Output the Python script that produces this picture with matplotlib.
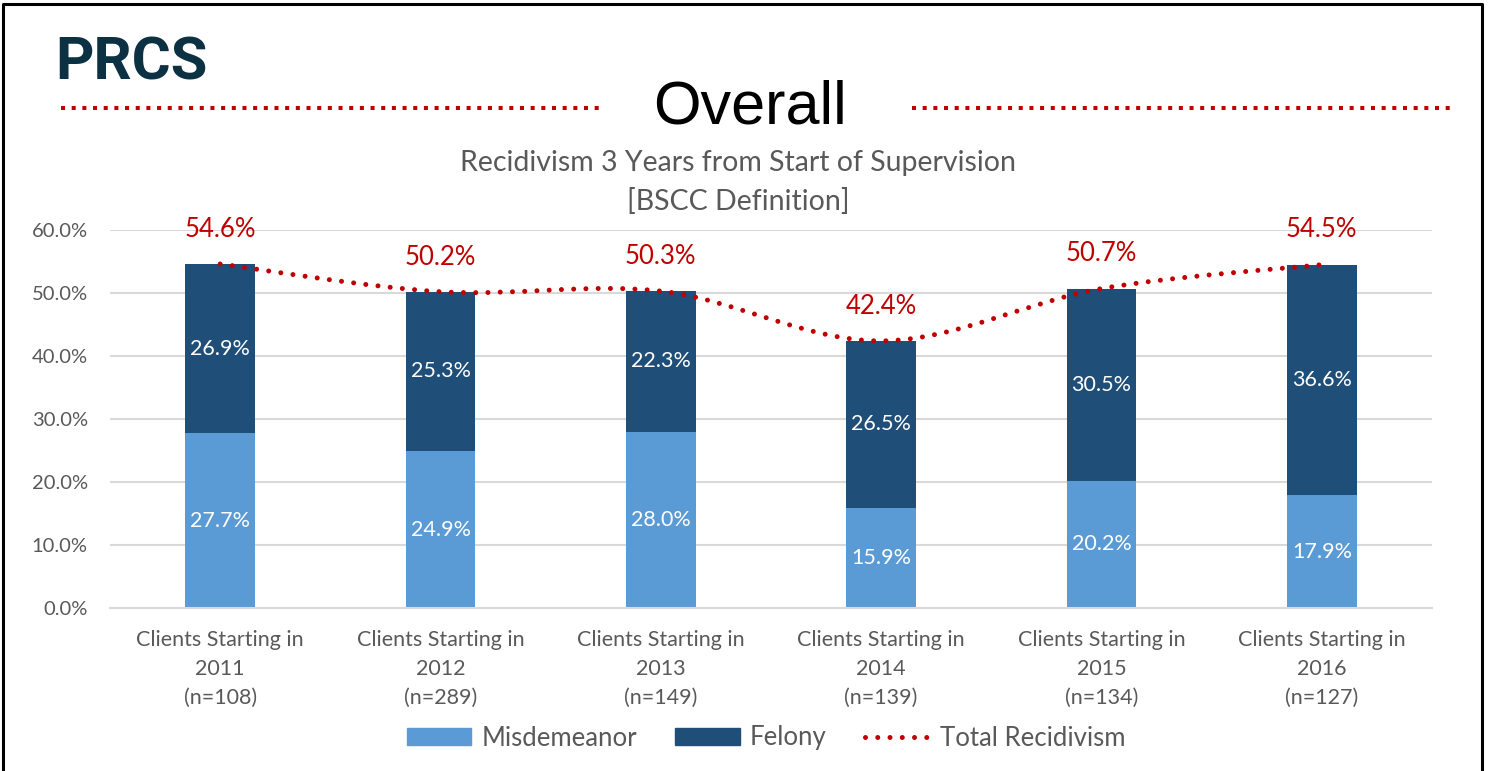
import matplotlib
matplotlib.use("Agg")
import matplotlib.pyplot as plt
import numpy as np
from matplotlib.path import Path
from matplotlib.patches import PathPatch, Patch
from matplotlib.lines import Line2D

plt.rcParams['font.family'] = ['Lato', 'DejaVu Sans']

# ---- data ----
categories = ["Clients Starting in\n2011\n(n=108)",
              "Clients Starting in\n2012\n(n=289)",
              "Clients Starting in\n2013\n(n=149)",
              "Clients Starting in\n2014\n(n=139)",
              "Clients Starting in\n2015\n(n=134)",
              "Clients Starting in\n2016\n(n=127)"]
misdemeanor = [27.7, 24.9, 28.0, 15.9, 20.2, 17.9]
felony = [26.9, 25.3, 22.3, 26.5, 30.5, 36.6]
total = [54.6, 50.2, 50.3, 42.4, 50.7, 54.5]
yticks = [0, 10, 20, 30, 40, 50, 60]

C_MIS = "#5B9BD5"
C_FEL = "#1F4E79"
C_RED = "#C00000"
C_GRAY = "#595959"

fig = plt.figure(figsize=(14.9, 7.71), dpi=100)
ax = fig.add_axes([110/1490, 1-608/771, (1432-110)/1490, (608-230)/771])

x = np.arange(len(categories))
w = 0.315
ax.bar(x, misdemeanor, w, color=C_MIS, zorder=2, label="Misdemeanor")
ax.bar(x, felony, w, bottom=misdemeanor, color=C_FEL, zorder=2, label="Felony")

for i in range(len(x)):
    ax.text(x[i], misdemeanor[i]/2, f"{misdemeanor[i]:.1f}%", ha='center', va='center',
            color='white', fontsize=15.5, zorder=3)
    ax.text(x[i], misdemeanor[i] + felony[i]/2, f"{felony[i]:.1f}%", ha='center', va='center',
            color='white', fontsize=15.5, zorder=3)
    ax.annotate(f"{total[i]:.1f}%", (x[i], total[i]), xytext=(0, 25), textcoords='offset points',
                ha='center', va='center', color=C_RED, fontsize=18.5, zorder=3)

# smoothed total line (Catmull-Rom -> Bezier from data points)
pts = np.column_stack([x, total]).astype(float)
verts = [tuple(pts[0])]
codes = [Path.MOVETO]
n = len(pts)
for i in range(n-1):
    p0 = pts[i-1] if i > 0 else pts[i]
    p1 = pts[i]
    p2 = pts[i+1]
    p3 = pts[i+2] if i+2 < n else pts[i+1]
    c1 = p1 + (p2 - p0) / 6.0
    c2 = p2 - (p3 - p1) / 6.0
    verts += [tuple(c1), tuple(c2), tuple(p2)]
    codes += [Path.CURVE4]*3
path = Path(verts, codes)
pp = PathPatch(path, facecolor='none', edgecolor=C_RED, lw=3.6, zorder=4,
               linestyle=(0, (0.001, 2.45)), capstyle='round')
ax.add_patch(pp)

ax.set_xlim(-0.5, len(x)-0.5)
ax.set_ylim(0, 60)
ax.set_yticks(yticks)
ax.set_yticklabels([f"{v:.1f}%" for v in yticks])
ax.set_xticks(x)
ax.set_xticklabels(categories, linespacing=1.55)
ax.tick_params(axis='both', length=0, colors=C_GRAY)
ax.tick_params(axis='y', pad=16, labelsize=14.5)
ax.tick_params(axis='x', pad=16, labelsize=15.5)
ax.grid(axis='y', color='#D9D9D9', lw=1.5, zorder=0)
ax.set_axisbelow(True)
for s in ['top', 'right', 'left']:
    ax.spines[s].set_visible(False)
ax.spines['bottom'].set_color('#D9D9D9')
ax.spines['bottom'].set_linewidth(1.5)

handles = [Patch(color=C_MIS, label="Misdemeanor"),
           Patch(color=C_FEL, label="Felony"),
           Line2D([0], [0], color=C_RED, lw=3.6, linestyle=(0, (0.001, 2.45)),
                  dash_capstyle='round', label="Total Recidivism")]
fig.legend(handles=handles, loc='center', bbox_to_anchor=(766/1490, 1-738/771), ncol=3,
           frameon=False, fontsize=18.5, labelcolor=C_GRAY, handlelength=2.5, handleheight=0.62,
           handletextpad=0.4, columnspacing=1.5)

# titles
fig.text(55/1490, 1-80/771, "PRCS", fontsize=43, fontweight='bold', color="#0B3142",
         family=['Roboto', 'Liberation Sans'], ha='left', va='baseline')
fig.text(750/1490, 1-108/771, "Overall", fontsize=44, color='black',
         family=['Liberation Sans'], ha='center', va='center')
fig.text(738/1490, 1-163/771, "Recidivism 3 Years from Start of Supervision", fontsize=20.5,
         color=C_GRAY, ha='center', va='center')
fig.text(738/1490, 1-202/771, "[BSCC Definition]", fontsize=20.5,
         color=C_GRAY, ha='center', va='center')

ty = 1-108/771
fig.add_artist(Line2D([61/1490, 600/1490], [ty, ty], color=C_RED, lw=2.9,
                      linestyle=(0, (1, 1.65)), dash_capstyle='butt'))
fig.add_artist(Line2D([912/1490, 1452/1490], [ty, ty], color=C_RED, lw=2.9,
                      linestyle=(0, (1, 1.65)), dash_capstyle='butt'))

# frame
fx0, fx1, fy1 = 3/1490, 1482/1490, 1-4/771
fig.add_artist(Line2D([fx0, fx0, fx1, fx1], [-0.01, fy1, fy1, -0.01], color='black', lw=2.2))

fig.savefig("out.png", dpi=100)
